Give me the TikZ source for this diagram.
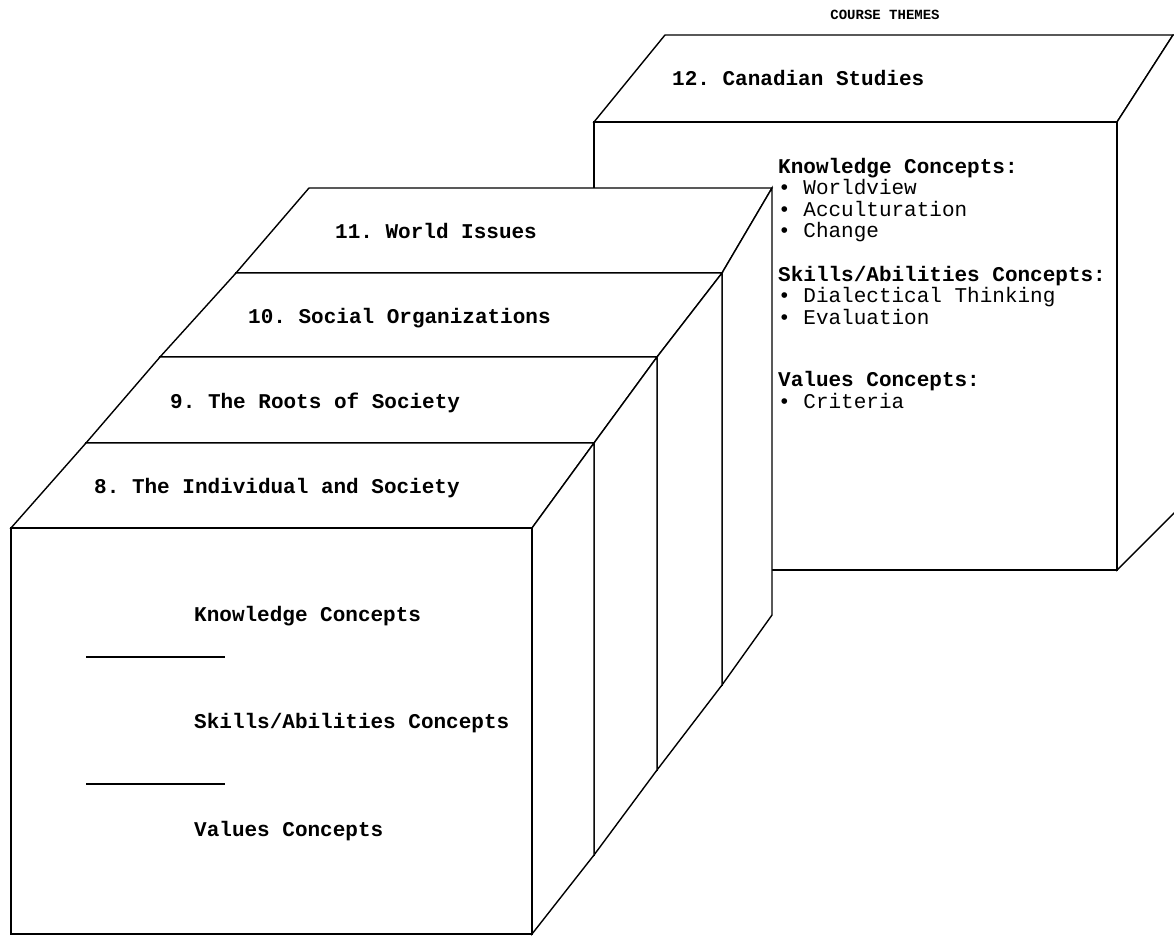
\documentclass[tikz,border=0pt]{standalone}
\usepackage{fontspec}
\setmainfont{Liberation Mono}
\frenchspacing
\begin{document}
\tikzset{
  face/.style={draw=black, line width=1.4pt, line join=miter, fill=white},
  rule/.style={draw=black, line width=1.3pt},
  lbl/.style={font=\fontsize{21}{21}\selectfont\bfseries, anchor=base west, inner sep=0pt},
  item/.style={font=\fontsize{21}{21}\selectfont, anchor=base west, inner sep=0pt},
  ttl/.style={font=\fontsize{14}{14}\selectfont\bfseries, anchor=base, inner sep=0pt}
}
\begin{tikzpicture}[x=1pt,y=-1pt]
\useasboundingbox (0,0) rectangle (1174,936);
\clip (0,0) rectangle (1174,936);

% title
\node[ttl] (title) at (885,20) {COURSE THEMES};

% ---------- Box 12 (Canadian Studies) ----------
\path[face] (594,122) -- (665,35) -- (1173,35) -- (1117,122) -- cycle;
\path[face] (1117,122) -- (1173,35) -- (1200,35) -- (1200,487) -- (1117,570) -- cycle;
\path[face] (594,122) rectangle (1117,570);

\node[lbl] (t12) at (672,86) {12. Canadian Studies};
\node[lbl]  (k12) at (778,174) {Knowledge Concepts:};
\node[item] (k1)  at (778,194) {• Worldview};
\node[item] (k2)  at (778,216) {• Acculturation};
\node[item] (k3)  at (778,237) {• Change};
\node[lbl]  (s12) at (778,281) {Skills/Abilities Concepts:};
\node[item] (s1)  at (778,302) {• Dialectical Thinking};
\node[item] (s2)  at (778,324) {• Evaluation};
\node[lbl]  (v12) at (778,386) {Values Concepts:};
\node[item] (v1)  at (778,408) {• Criteria};

% ---------- Slab 11 ----------
\path[face] (236,273) -- (309,188) -- (772,188) -- (722,273) -- cycle;
\path[face] (722,273) -- (772,188) -- (772,615) -- (722,685) -- cycle;
\path[face] (236,273) rectangle (722,685);
\node[lbl] (t11) at (335,238) {11. World Issues};

% ---------- Slab 10 ----------
\path[face] (160,357) -- (236,273) -- (722,273) -- (657,357) -- cycle;
\path[face] (657,357) -- (722,273) -- (722,685) -- (657,770) -- cycle;
\path[face] (160,357) rectangle (657,770);
\node[lbl] (t10) at (248,323) {10. Social Organizations};

% ---------- Slab 9 ----------
\path[face] (86,443) -- (160,357) -- (657,357) -- (594,443) -- cycle;
\path[face] (594,443) -- (657,357) -- (657,770) -- (594,855) -- cycle;
\path[face] (86,443) rectangle (594,855);
\node[lbl] (t9) at (170,408) {9. The Roots of Society};

% ---------- Slab 8 ----------
\path[face] (11,528) -- (86,443) -- (594,443) -- (532,528) -- cycle;
\path[face] (532,528) -- (594,443) -- (594,855) -- (532,934) -- cycle;
\path[face] (11,528) rectangle (532,934);
\node[lbl] (t8) at (94,493) {8. The Individual and Society};

\node[lbl] (k8) at (194,621) {Knowledge Concepts};
\coordinate (r1a) at (86,657);
\coordinate (r1b) at (225,657);
\draw[rule] (r1a) -- (r1b);
\node[lbl] (s8) at (194,728) {Skills/Abilities Concepts};
\coordinate (r2a) at (86,784);
\coordinate (r2b) at (225,784);
\draw[rule] (r2a) -- (r2b);
\node[lbl] (v8) at (194,836) {Values Concepts};
\end{tikzpicture}
\end{document}
